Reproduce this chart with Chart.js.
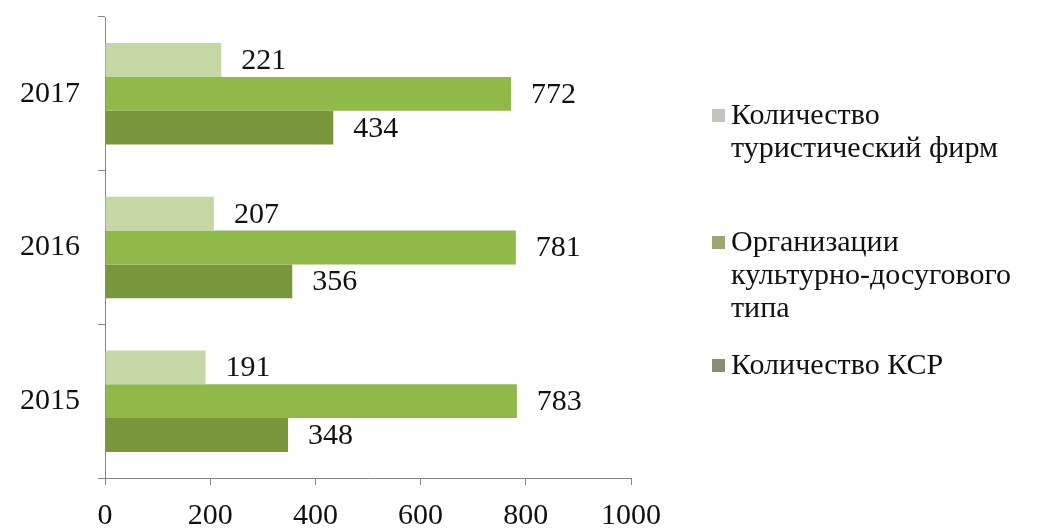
<!DOCTYPE html>
<html>
<head>
<meta charset="utf-8">
<script src="https://cdn.jsdelivr.net/npm/chart.js@4.4.0/dist/chart.umd.min.js"></script>
<style>
  body { margin: 0; background: #fff; }
  #chart { display: block; }
</style>
</head>
<body>
<canvas id="chart" width="1042" height="529"></canvas>
<script>
// Данные диаграммы
const years = ['2017', '2016', '2015'];
const tourFirms = [221, 207, 191];
const cultureOrgs = [772, 781, 783];
const ksrCount = [434, 356, 348];
const xTicks = [0, 200, 400, 600, 800, 1000];

const seriesNames = [
  'Количество туристический фирм',
  'Организации культурно-досугового типа',
  'Количество КСР'
];
// Строки легенды (перенос как на исходнике)
const legendLines = [
  ['Количество', 'туристический фирм'],
  ['Организации', 'культурно-досугового', 'типа'],
  ['Количество КСР']
];

const barColors = ['#c6d7a6', '#8fba49', '#78973c'];
const swatchColors = ['#c4c4be', '#9ea674', '#8a8e70'];
const serif = "'Liberation Serif', 'Times New Roman', serif";
const axisColor = '#868686';

// Подписи значений справа от столбцов
const valueLabels = {
  id: 'valueLabels',
  afterDatasetsDraw(chart) {
    const ctx = chart.ctx;
    ctx.save();
    ctx.font = '30px ' + serif;
    ctx.fillStyle = '#111';
    ctx.textAlign = 'left';
    ctx.textBaseline = 'middle';
    chart.data.datasets.forEach((ds, i) => {
      chart.getDatasetMeta(i).data.forEach((bar, j) => {
        ctx.fillText(ds.data[j], bar.x + 20, bar.y + 1);
      });
    });
    ctx.restore();
  }
};

// Легенда справа, многострочная
const sideLegend = {
  id: 'sideLegend',
  afterDraw(chart) {
    const ctx = chart.ctx;
    const startY = [124, 251, 374];
    const lineH = 33;
    ctx.save();
    ctx.font = '30px ' + serif;
    ctx.textAlign = 'left';
    ctx.textBaseline = 'alphabetic';
    legendLines.forEach((lines, i) => {
      const y0 = startY[i];
      ctx.fillStyle = swatchColors[i];
      ctx.fillRect(712, y0 - 15, 13, 13);
      ctx.fillStyle = '#111';
      lines.forEach((t, k) => ctx.fillText(t, 731, y0 + k * lineH));
    });
    ctx.restore();
  }
};

const datasets = [tourFirms, cultureOrgs, ksrCount].map((vals, i) => ({
  label: seriesNames[i],
  data: vals,
  backgroundColor: barColors[i],
  borderWidth: 0,
  categoryPercentage: 0.66,
  barPercentage: 1.0
}));

new Chart(document.getElementById('chart'), {
  type: 'bar',
  data: { labels: years, datasets: datasets },
  options: {
    indexAxis: 'y',
    responsive: false,
    animation: false,
    layout: { padding: { top: 17, right: 411, left: 0, bottom: 0 } },
    plugins: {
      legend: { display: false },
      tooltip: { enabled: false }
    },
    scales: {
      x: {
        min: 0,
        max: 1000,
        afterBuildTicks(axis) {
          axis.ticks = xTicks.map(v => ({ value: v }));
        },
        afterFit(axis) { axis.height = 51; },
        grid: { drawOnChartArea: false, drawTicks: true, tickLength: 7, color: axisColor },
        border: { color: axisColor, width: 1 },
        ticks: {
          font: { family: serif, size: 30 },
          color: '#111',
          padding: 13,
          maxRotation: 0,
          callback: v => String(v)
        }
      },
      y: {
        afterFit(axis) {
          axis.width = 105;
          axis.paddingTop = 0;
          axis.paddingBottom = 0;
        },
        grid: { offset: true, drawOnChartArea: false, drawTicks: true, tickLength: 7, color: axisColor },
        border: { color: axisColor, width: 1 },
        ticks: { font: { family: serif, size: 30 }, color: '#111', padding: 18 }
      }
    }
  },
  plugins: [valueLabels, sideLegend]
});
</script>
</body>
</html>
